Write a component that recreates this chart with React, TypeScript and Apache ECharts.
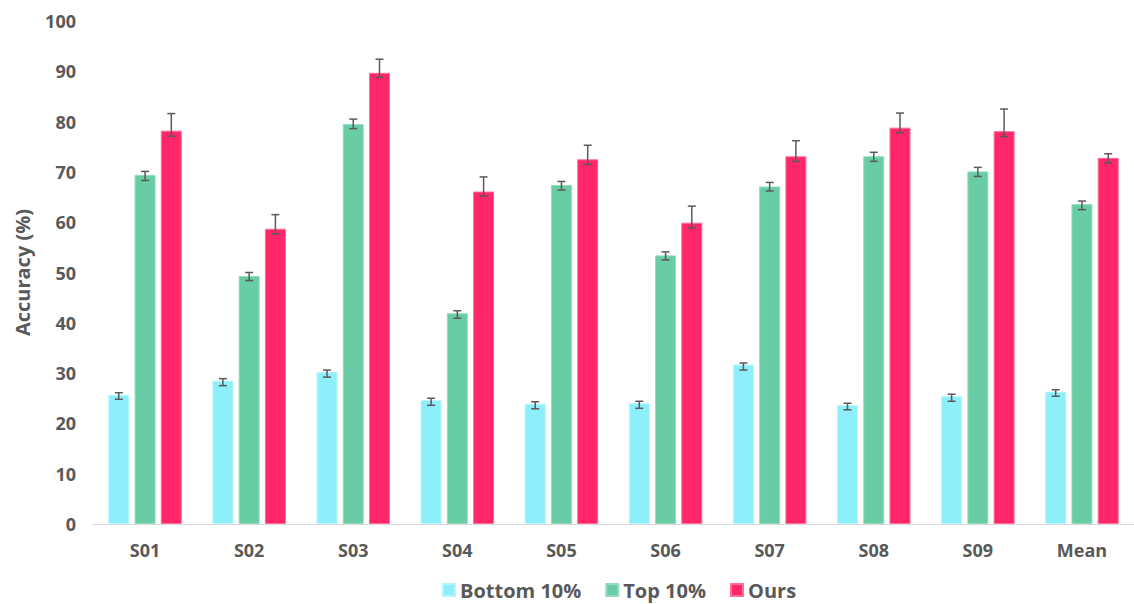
import React, { useEffect, useRef } from "react";
import * as echarts from "echarts";

const categories = ["S01", "S02", "S03", "S04", "S05", "S06", "S07", "S08", "S09", "Mean"];
const yTicks = [0, 10, 20, 30, 40, 50, 60, 70, 80, 90, 100];

const seriesNames = ["Bottom 10%", "Top 10%", "Ours"];

const bottomValues = [25.7, 28.5, 30.2, 24.6, 23.9, 24.0, 31.7, 23.6, 25.4, 26.3];
const bottomErrPlus = [0.4, 0.4, 0.4, 0.4, 0.4, 0.4, 0.3, 0.4, 0.4, 0.4];
const bottomErrMinus = [0.9, 1.0, 1.0, 1.0, 1.0, 1.0, 1.1, 0.9, 1.0, 0.9];

const topValues = [69.4, 49.3, 79.5, 41.9, 67.4, 53.4, 67.1, 73.1, 70.1, 63.6];
const topErrPlus = [0.7, 0.7, 1.0, 0.5, 0.7, 0.7, 0.8, 0.8, 0.8, 0.6];
const topErrMinus = [1.1, 0.9, 0.9, 1.0, 1.0, 0.9, 0.9, 1.0, 1.0, 1.1];

const oursValues = [78.2, 58.7, 89.7, 66.1, 72.5, 59.9, 73.1, 78.8, 78.1, 72.8];
const oursErrPlus = [3.4, 2.8, 2.7, 2.9, 2.8, 3.3, 3.1, 2.9, 4.4, 0.8];
const oursErrMinus = [1.1, 1.0, 0.9, 0.9, 1.0, 1.0, 1.0, 1.0, 1.1, 1.0];

const COLORS = ["#8CEFFA", "#68CCA4", "#FF2769"];
const BORDERS = ["#B5F5FC", "#95DCBF", "#FF6D98"];
const TEXT = "#595959";
const FONT = "'Open Sans', 'Noto Sans', sans-serif";
const BAR_W = 21;
const BAR_GAP = 0.25;

export default function App() {
  const ref = useRef<HTMLDivElement>(null);

  useEffect(() => {
    if (!ref.current) return;
    const chart = echarts.init(ref.current, undefined, { renderer: "svg" });

    const step = BAR_W * (1 + BAR_GAP);
    const groups = [
      { vals: bottomValues, plus: bottomErrPlus, minus: bottomErrMinus, off: -step },
      { vals: topValues, plus: topErrPlus, minus: topErrMinus, off: 0 },
      { vals: oursValues, plus: oursErrPlus, minus: oursErrMinus, off: step },
    ];

    const barSeries = groups.map((g, i) => ({
      name: seriesNames[i],
      type: "bar",
      data: g.vals,
      barWidth: BAR_W,
      barGap: BAR_GAP * 100 + "%",
      itemStyle: { color: COLORS[i], borderColor: BORDERS[i], borderWidth: 1 },
      z: 2,
    }));

    const errSeries = groups.map((g, i) => ({
      name: "err" + i,
      type: "custom",
      z: 5,
      silent: true,
      encode: { x: 0, y: 1 },
      data: g.vals.map((v, k) => [k, v, g.plus[k], g.minus[k]]),
      renderItem: (params: any, api: any) => {
        const idx = api.value(0);
        const v = api.value(1);
        const p = api.value(2);
        const m = api.value(3);
        const x = api.coord([idx, 0])[0] + g.off;
        const yT = api.coord([idx, v + p])[1];
        const yB = api.coord([idx, v - m])[1];
        const cap = 4;
        const style = { stroke: "#5A5A5A", lineWidth: 1.5 };
        return {
          type: "group",
          children: [
            { type: "line", shape: { x1: x, y1: yT, x2: x, y2: yB }, style },
            { type: "line", shape: { x1: x - cap, y1: yT, x2: x + cap, y2: yT }, style },
            { type: "line", shape: { x1: x - cap, y1: yB, x2: x + cap, y2: yB }, style },
          ],
        };
      },
    }));

    chart.setOption({
      animation: false,
      backgroundColor: "#FFFFFF",
      textStyle: { fontFamily: FONT },
      grid: { left: 93, top: 21, width: 1043, height: 503 },
      legend: {
        data: seriesNames,
        left: 440,
        top: 578,
        padding: 2,
        icon: "rect",
        itemWidth: 12,
        itemHeight: 12,
        itemGap: 24,
        textStyle: { color: TEXT, fontSize: 20, fontWeight: "bold", fontFamily: FONT },
      },
      xAxis: {
        type: "category",
        data: categories,
        axisLine: { lineStyle: { color: "#D9D9D9", width: 1 } },
        axisTick: { show: false },
        axisLabel: { color: TEXT, fontSize: 18, fontWeight: "bold", margin: 17, fontFamily: FONT },
      },
      yAxis: {
        type: "value",
        min: yTicks[0],
        max: yTicks[yTicks.length - 1],
        interval: yTicks[1] - yTicks[0],
        splitLine: { show: false },
        axisLine: { show: false },
        axisTick: { show: false },
        axisLabel: { color: TEXT, fontSize: 18, fontWeight: "bold", margin: 17, fontFamily: FONT },
        name: "Accuracy (%)",
        nameLocation: "middle",
        nameGap: 61,
        nameRotate: 90,
        nameTextStyle: { color: TEXT, fontSize: 20, fontWeight: "bold", fontFamily: FONT },
      },
      series: [...barSeries, ...errSeries],
    });

    return () => chart.dispose();
  }, []);

  return (
    <div
      ref={ref}
      style={{ position: "fixed", left: 0, top: 0, width: 1134, height: 604, background: "#fff" }}
    />
  );
}
